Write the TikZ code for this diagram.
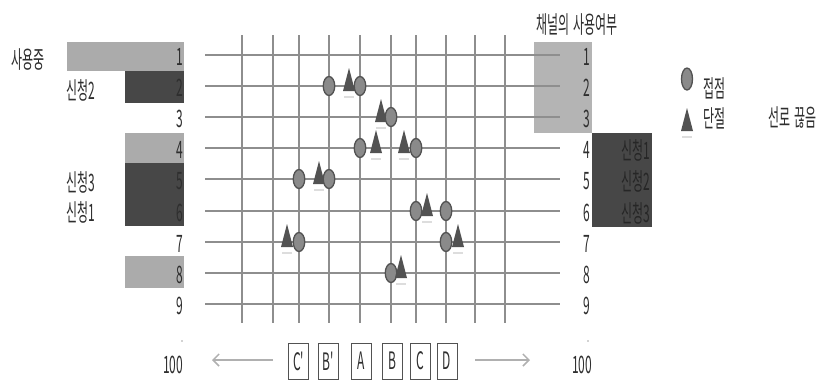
\documentclass[tikz,border=0pt]{standalone}
\usepackage{fontspec}
\newfontfamily\kf[FakeStretch=0.5]{Noto Sans CJK KR}
\usetikzlibrary{arrows.meta,shapes.geometric}
\definecolor{lgray}{HTML}{ABABAB}
\definecolor{rgray}{HTML}{B4B4B4}
\definecolor{dgray}{HTML}{474747}
\definecolor{gridc}{HTML}{8E8E8E}
\definecolor{txt}{HTML}{2E2E2E}
\definecolor{mk}{HTML}{8A8A8A}
\definecolor{mkd}{HTML}{525252}
\definecolor{shd}{HTML}{DDDDDD}
\definecolor{arr}{HTML}{B0B0B0}
\newcommand\cpt[3]{\node[cnode] (#1) at (#2,#3) {};}
\newcommand\brk[3]{\coordinate (#1) at (#2,#3);
  \fill[mkd,shift={(#1)}] (-6,5) -- (0,-18) -- (6,5) -- cycle;
  \draw[shd,line width=2,shift={(#1)}] (-5,11) -- (5,11);}
\begin{document}
\begin{tikzpicture}[x=1pt,y=-1pt,
  lbl/.style={font=\kf\fontsize{24}{24}\selectfont, text=txt, inner sep=0pt},
  cnode/.style={ellipse, draw=mkd, fill=mk, line width=1.3, minimum width=11.5, minimum height=19, inner sep=0},
  hline/.style={gridc, line width=2.2},
  vline/.style={gridc, line width=1.3},
  keybox/.style={lbl, draw=mkd, line width=0.7, fill=white, minimum width=20, minimum height=36},
  arrowln/.style={arr, line width=1.5, -{Straight Barb[length=6pt,width=12pt]}}
]
\useasboundingbox (0,0) rectangle (823,381);
% left boxes
\fill[lgray] (67,42) rectangle (184,71);
\fill[dgray] (125,71) rectangle (184,103);
\fill[lgray] (125,133) rectangle (184,163);
\fill[dgray] (125,163) rectangle (184,226);
\fill[lgray] (125,256) rectangle (184,288);
% right boxes
\fill[rgray] (534,42) rectangle (592,133);
\fill[dgray] (592,133) rectangle (652,227);
% grid
\foreach \x in {242,273,299,329,360,391,416,446,475,505}
  \draw[vline] (\x,35) -- (\x,323);
\foreach \i/\yy in {1/55,2/86,3/117,4/148,5/179,6/211,7/242,8/273,9/304}{
  \draw[hline] (205,\yy) -- (560,\yy);
  \node[lbl, anchor=east] (L\i) at (183,\yy+2) {\i};
  \node[lbl, anchor=east] (R\i) at (590,\yy+2) {\i};
}
% left labels
\node[lbl] (use) at (28,60) {사용중};
\node[lbl] (s2) at (81,90) {신청2};
\node[lbl] (s3) at (81,182) {신청3};
\node[lbl] (s1) at (81,212) {신청1};
% right labels
\node[lbl] (title) at (577,25) {채널의\hspace{4pt}사용여부};
\node[lbl, anchor=east, text=black!85] (rs1) at (650,150) {신청1};
\node[lbl, anchor=east, text=black!85] (rs2) at (650,181) {신청2};
\node[lbl, anchor=east, text=black!85] (rs3) at (650,213) {신청3};
% markers
\cpt{a1}{329}{86} \brk{b1}{349}{86} \cpt{a2}{360}{86}
\brk{b2}{381}{117} \cpt{a3}{391}{117}
\cpt{a4}{360}{148} \brk{b3}{376}{148} \brk{b4}{404}{148} \cpt{a5}{416}{148}
\cpt{a6}{299}{179} \brk{b5}{319}{179} \cpt{a7}{329}{179}
\cpt{a8}{416}{211} \brk{b6}{427}{211} \cpt{a9}{446}{211}
\brk{b7}{287}{242} \cpt{a10}{299}{242}
\cpt{a11}{446}{242} \brk{b8}{458}{242}
\cpt{a12}{391}{273} \brk{b9}{401}{273}
% legend
\node[cnode, minimum width=11, minimum height=22] (lc) at (687,79) {};
\node[lbl, anchor=west] (lc1) at (703,88) {접점};
\brk{lt}{687}{126}
\node[lbl, anchor=west] (lt1) at (703,118) {단절};
\node[lbl, anchor=west] (lt2) at (768,118) {선로\hspace{4pt}끊음};
% bottom
\fill[gray!70] (182,341) circle (0.8);
\fill[gray!70] (588,341) circle (0.8);
\node[lbl] (h1) at (173,365) {100};
\node[lbl] (h2) at (582,365) {100};
\coordinate (la) at (273,360); \coordinate (lb) at (212,360);
\coordinate (ra) at (475,360); \coordinate (rb) at (530,360);
\draw[arrowln] (la) -- (lb);
\draw[arrowln] (ra) -- (rb);
\node[keybox] (kC1) at (298.5,361) {C'};
\node[keybox] (kB1) at (328.5,361) {B'};
\node[keybox] (kA) at (361.5,361) {A};
\node[keybox] (kB) at (392,361) {B};
\node[keybox] (kC) at (420.5,361) {C};
\node[keybox] (kD) at (447,361) {D};
\end{tikzpicture}
\end{document}
